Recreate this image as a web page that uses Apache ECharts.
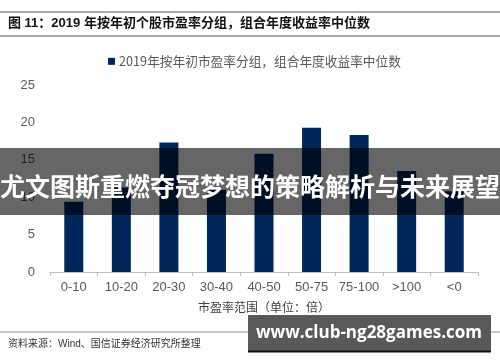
<!DOCTYPE html>
<html>
<head>
<meta charset="utf-8">
<script src="https://cdn.jsdelivr.net/npm/echarts@6/dist/echarts.min.js"></script>
<style>
html,body{margin:0;padding:0;background:#fff;}
#c{width:500px;height:362px;}
</style>
</head>
<body>
<div id="c"></div>
<script>
var categories = ['0-10','10-20','20-30','30-40','40-50','50-75','75-100','>100','<0'];
var values = [9.4, 11.3, 17.3, 11.0, 15.8, 19.3, 18.3, 13.5, 10.8];
var yTicks = [0, 5, 10, 15, 20, 25];
var seriesName = '2019年按年初市盈率分组，组合年度收益率中位数';
var figTitle = '图 11：2019 年按年初个股市盈率分组，组合年度收益率中位数';
var axisName = '市盈率范围（单位：倍）';
var sourceText = '资料来源：Wind、国信证券经济研究所整理';
var bannerText = '尤文图斯重燃夺冠梦想的策略解析与未来展望';
var watermark = 'www.club-ng28games.com';

var cjk = '"Liberation Sans", Arial, "Noto Sans CJK SC", sans-serif';
var chart = echarts.init(document.getElementById('c'), null, {renderer: 'canvas'});
chart.setOption({
  animation: false,
  backgroundColor: '#fff',
  grid: {left: 50, right: 22, top: 85, bottom: 90, containLabel: false},
  legend: {
    data: [seriesName],
    left: 103, top: 50,
    icon: 'rect', itemWidth: 7, itemHeight: 7, itemGap: 4,
    textStyle: {color: '#595959', fontSize: 12.7, fontFamily: '"Noto Sans CJK SC", serif', padding: [0,0,0,-1]}
  },
  xAxis: {
    type: 'category',
    data: categories,
    axisLine: {lineStyle: {color: '#bfbfbf', width: 1}},
    axisTick: {show: true, alignWithLabel: false, length: 4, lineStyle: {color: '#bfbfbf'}},
    axisLabel: {color: '#595959', fontSize: 13, fontFamily: cjk, margin: 9, interval: 0},
    name: axisName,
    nameLocation: 'middle',
    nameGap: 29,
    nameTextStyle: {color: '#404040', fontSize: 12, fontFamily: '"Noto Sans CJK SC", serif'}
  },
  yAxis: {
    type: 'value',
    min: yTicks[0], max: yTicks[yTicks.length-1], interval: 5,
    axisLine: {show: false},
    axisTick: {show: false},
    splitLine: {show: false},
    axisLabel: {color: '#595959', fontSize: 13, fontFamily: cjk, margin: 15}
  },
  series: [{
    name: seriesName,
    type: 'bar',
    data: values,
    barWidth: 19,
    itemStyle: {color: '#00275a'}
  }],
  graphic: [
    {type: 'line', shape: {x1: 0, y1: 12, x2: 500, y2: 12}, style: {stroke: '#8c8c8c', lineWidth: 1.5}},
    {type: 'line', shape: {x1: 0, y1: 36, x2: 500, y2: 36}, style: {stroke: '#8c8c8c', lineWidth: 1.5}},
    {type: 'text', left: 8, top: 17, style: {text: figTitle, fill: '#111', font: 'bold 13px "Liberation Sans", "Noto Sans CJK SC", sans-serif'}},
    {type: 'line', shape: {x1: 0, y1: 332, x2: 500, y2: 332}, style: {stroke: '#8c8c8c', lineWidth: 1}},
    {type: 'text', left: 8, top: 339, style: {text: sourceText, fill: '#333', font: '10px "Liberation Sans", "Noto Sans CJK SC", sans-serif'}},
    {type: 'rect', shape: {x: 0, y: 148, width: 500, height: 67}, style: {fill: 'rgba(0,0,0,0.6)'}, z: 100},
    {type: 'text', x: 250, y: 186, z: 101, style: {text: bannerText, fill: '#fff', align: 'center', verticalAlign: 'middle', font: 'bold 25px "Noto Sans CJK SC", sans-serif'}},
    {type: 'rect', shape: {x: 248, y: 315, width: 243, height: 36}, style: {fill: '#595959'}, z: 100},
    {type: 'line', shape: {x1: 248, y1: 351.5, x2: 491, y2: 351.5}, style: {stroke: '#111', lineWidth: 2}, z: 101},
    {type: 'text', x: 369, y: 333, z: 101, style: {text: watermark, fill: '#fff', align: 'center', verticalAlign: 'middle', font: 'bold 17px "Open Sans", "DejaVu Sans", sans-serif'}}
  ]
});
</script>
</body>
</html>
